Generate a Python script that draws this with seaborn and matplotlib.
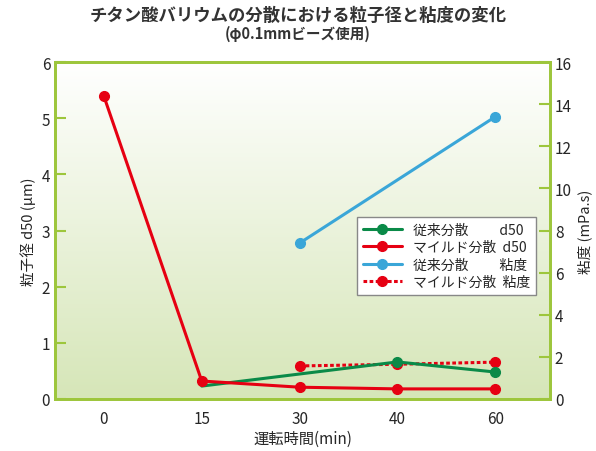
import numpy as np
import matplotlib.pyplot as plt
import seaborn as sns
from matplotlib.colors import LinearSegmentedColormap

sns.set_style("white")
plt.rcParams['font.family'] = ['Noto Sans CJK JP', 'DejaVu Sans']

times = ["0", "15", "30", "40", "60"]
conv_d50_x = [1, 3, 4]
conv_d50 = [0.23, 0.66, 0.48]
mild_d50 = [5.39, 0.32, 0.21, 0.18, 0.18]
conv_visc_x = [2, 4]
conv_visc = [7.4, 13.4]
mild_visc_x = [2, 3, 4]
mild_visc = [1.57, 1.65, 1.75]

frame = '#9dc63c'
rect = [55/596, 52/452, 495/596, 337/452]
fig = plt.figure(figsize=(5.96, 4.52), dpi=100)

# gradient background in its own axes
bg = fig.add_axes(rect)
grad = np.linspace(0, 1, 256).reshape(-1, 1)
cm = LinearSegmentedColormap.from_list('g', ['#d6e6b8', '#ffffff'])
bg.imshow(grad, extent=[0, 1, 0, 1], aspect='auto', cmap=cm, origin='lower')
bg.set_axis_off()

ax = fig.add_axes(rect)
ax.patch.set_visible(False)
ax.set_xlim(-0.5, 4.56)
ax.set_ylim(0, 6)
ax2 = ax.twinx()
ax2.patch.set_visible(False)
ax2.set_ylim(0, 16)

ax2.plot(conv_visc_x, conv_visc, color='#3aa6d8', lw=2.2, marker='o', ms=7, zorder=3)
ax2.plot(mild_visc_x, mild_visc, color='#e60012', lw=2.2, ls=(0, (1.2, 0.8)), marker='o', ms=7, zorder=3)

ax.plot(conv_d50_x, conv_d50, color='#0a8a48', lw=2.2, marker='o', ms=7, markevery=[1, 2], zorder=3)
ax.plot(range(len(mild_d50)), mild_d50, color='#e60012', lw=2.2, marker='o', ms=7, zorder=4)
ax.set_zorder(ax2.get_zorder() + 1)

handles = [
    plt.Line2D([], [], color='#0a8a48', lw=2.2, marker='o', ms=7),
    plt.Line2D([], [], color='#e60012', lw=2.2, marker='o', ms=7),
    plt.Line2D([], [], color='#3aa6d8', lw=2.2, marker='o', ms=7),
    plt.Line2D([], [], color='#e60012', lw=2.2, ls=(0, (1.2, 0.8)), marker='o', ms=7),
]
labels = ['従来分散　　 d50', 'マイルド分散  d50', '従来分散　　 粘度', 'マイルド分散  粘度']
leg = ax.legend(handles, labels, loc='upper right', bbox_to_anchor=(0.985, 0.56), fontsize=10,
                fancybox=False, edgecolor='#888888', framealpha=1, handlelength=2.8,
                borderpad=0.4, labelspacing=0.25)
leg.set_zorder(10)

ax.set_xticks(range(5))
ax.set_xticklabels(times)
ax.set_xticks(np.arange(0.5, 4.5, 1), minor=True)
ax.tick_params(axis='x', which='major', length=0, labelsize=11, pad=8)
ax.tick_params(axis='x', which='minor', direction='in', length=6, color=frame, width=1.5)
ax.set_yticks(range(7))
ax.tick_params(axis='y', direction='in', length=8, color=frame, width=1.5, labelsize=11)
ax2.set_yticks(range(0, 17, 2))
ax2.tick_params(axis='y', direction='in', length=8, color=frame, width=1.5, labelsize=11)
for a in (ax, ax2):
    for s in a.spines.values():
        s.set_color(frame)
        s.set_linewidth(2)

ax.set_xlabel('運転時間(min)', fontsize=11, labelpad=2)
ax.set_ylabel('粒子径 d50 (μm)', fontsize=10.5)
ax2.set_ylabel('粘度 (mPa.s)', fontsize=10.5)

fig.text(0.5, 0.965, 'チタン酸バリウムの分散における粒子径と粘度の変化', ha='center', va='center',
         fontsize=12.5, fontweight='bold', color='#333333')
fig.text(0.5, 0.925, '(φ0.1mmビーズ使用)', ha='center', va='center', fontsize=10.5,
         fontweight='bold', color='#333333')

fig.savefig('out.png', dpi=100)
